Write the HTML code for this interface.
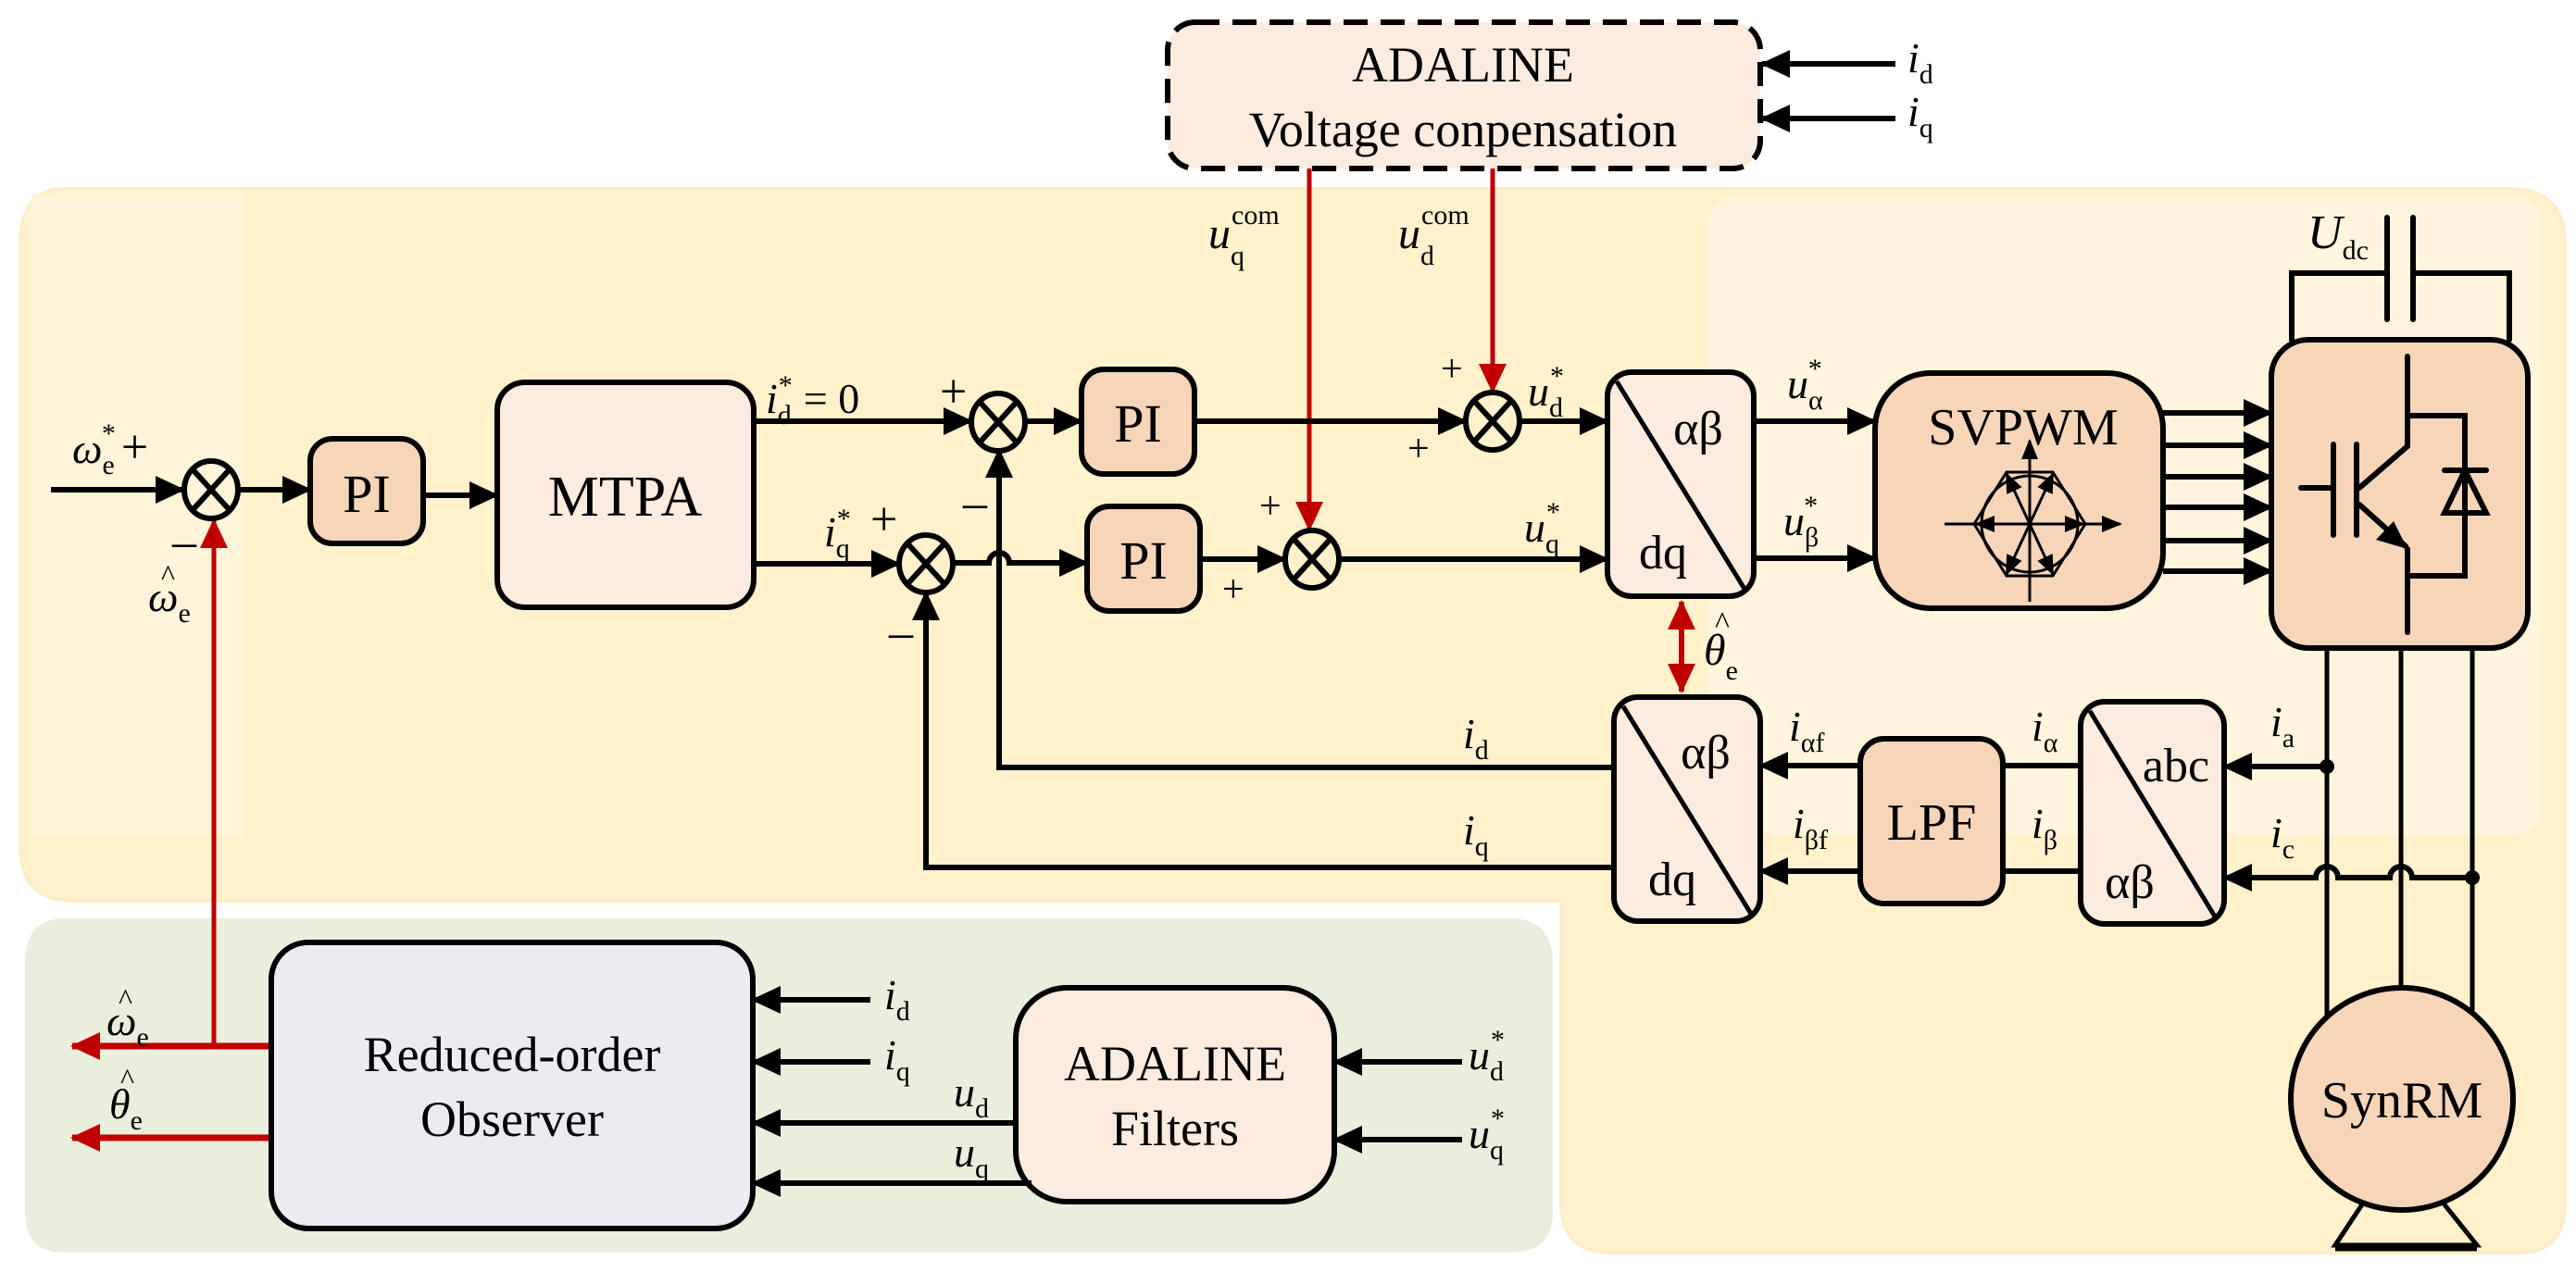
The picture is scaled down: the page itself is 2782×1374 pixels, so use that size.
<!DOCTYPE html>
<html><head><meta charset="utf-8"><style>
html,body{margin:0;padding:0;background:#fff}
svg{display:block}
svg text{font-family:"Liberation Serif",serif;fill:#000}
.it{font-style:italic}
</style></head><body>
<svg width="2782" height="1374" viewBox="0 0 2782 1374" xmlns="http://www.w3.org/2000/svg" font-family="Liberation Serif, serif">
<defs>
<marker id="a" markerUnits="userSpaceOnUse" markerWidth="32" markerHeight="30" refX="30" refY="15" orient="auto"><path d="M0,0 L32,15 L0,30 z" fill="#000"/></marker>
<marker id="r" markerUnits="userSpaceOnUse" markerWidth="32" markerHeight="30" refX="30" refY="15" orient="auto"><path d="M0,0 L32,15 L0,30 z" fill="#c00000"/></marker>
<marker id="rs" markerUnits="userSpaceOnUse" markerWidth="32" markerHeight="30" refX="2" refY="15" orient="auto"><path d="M32,0 L0,15 L32,30 z" fill="#c00000"/></marker>
<marker id="s" markerUnits="userSpaceOnUse" markerWidth="22" markerHeight="18" refX="20" refY="9" orient="auto"><path d="M0,0 L22,9 L0,18 z" fill="#000"/></marker>
</defs>

<!-- backgrounds -->
<path d="M70,204 H2710 Q2770,204 2770,264 V1300 Q2770,1353 2720,1353 H1740 Q1686,1353 1686,1300 V973 H80 Q22,973 22,915 V264 Q22,204 70,204 Z" fill="#fef1cc" stroke="#fdeecb" stroke-width="4"/>
<rect x="34" y="210" width="229" height="692" fill="#fef4d9"/>
<rect x="1845" y="212" width="900" height="690" rx="30" fill="#fef5dc"/>
<path d="M70,992 H1630 Q1677,992 1677,1040 V1310 Q1677,1353 1630,1353 H70 Q27,1353 27,1310 V1040 Q27,992 70,992 Z" fill="#e9efdc"/>

<!-- ADALINE voltage compensation -->
<rect x="1261" y="24" width="640" height="158" rx="30" fill="#fcebdf" stroke="#000" stroke-width="6" stroke-dasharray="26,14"/>
<text x="1580" y="88" font-size="54" text-anchor="middle">ADALINE</text>
<text x="1580" y="158" font-size="54" text-anchor="middle">Voltage conpensation</text>
<line x1="2047" y1="69" x2="1903" y2="69" stroke="#000" stroke-width="6" marker-end="url(#a)"/>
<line x1="2047" y1="128" x2="1903" y2="128" stroke="#000" stroke-width="6" marker-end="url(#a)"/>
<text x="2060" y="78" font-size="46" class="it">i<tspan font-size="30" font-style="normal" dy="12">d</tspan></text>
<text x="2060" y="136" font-size="46" class="it">i<tspan font-size="30" font-style="normal" dy="12">q</tspan></text>

<!-- red compensation lines -->
<line x1="1414" y1="182" x2="1414" y2="572" stroke="#c00000" stroke-width="5" marker-end="url(#r)"/>
<line x1="1612" y1="182" x2="1612" y2="423" stroke="#c00000" stroke-width="5" marker-end="url(#r)"/>
<text x="1305" y="268" font-size="48" class="it">u<tspan font-size="30" font-style="normal" dy="18">q</tspan><tspan font-size="30" font-style="normal" dx="-14" dy="-44">com</tspan></text>
<text x="1510" y="268" font-size="48" class="it">u<tspan font-size="30" font-style="normal" dy="18">d</tspan><tspan font-size="30" font-style="normal" dx="-14" dy="-44">com</tspan></text>

<!-- wires main -->
<g stroke="#000" stroke-width="6" fill="none">
<line x1="55" y1="529" x2="198" y2="529" marker-end="url(#a)"/>
<line x1="258" y1="529" x2="335" y2="529" marker-end="url(#a)"/>
<line x1="457" y1="535" x2="537" y2="535" marker-end="url(#a)"/>
<line x1="814" y1="455" x2="1049" y2="455" marker-end="url(#a)"/>
<line x1="814" y1="609" x2="971" y2="609" marker-end="url(#a)"/>
<line x1="1107" y1="455" x2="1168" y2="455" marker-end="url(#a)"/>
<path d="M1030,608 H1068 A11,11 0 0 1 1090,608 H1174" marker-end="url(#a)"/>
<line x1="1290" y1="455" x2="1583" y2="455" marker-end="url(#a)"/>
<line x1="1296" y1="604" x2="1388" y2="604" marker-end="url(#a)"/>
<line x1="1641" y1="455" x2="1736" y2="455" marker-end="url(#a)"/>
<line x1="1446" y1="604" x2="1736" y2="604" marker-end="url(#a)"/>
<line x1="1894" y1="455" x2="2025" y2="455" marker-end="url(#a)"/>
<line x1="1894" y1="603" x2="2025" y2="603" marker-end="url(#a)"/>
<line x1="2336" y1="446" x2="2453" y2="446" marker-end="url(#a)"/>
<line x1="2336" y1="481" x2="2453" y2="481" marker-end="url(#a)"/>
<line x1="2336" y1="515" x2="2453" y2="515" marker-end="url(#a)"/>
<line x1="2336" y1="548" x2="2453" y2="548" marker-end="url(#a)"/>
<line x1="2336" y1="584" x2="2453" y2="584" marker-end="url(#a)"/>
<line x1="2336" y1="617" x2="2453" y2="617" marker-end="url(#a)"/>
<polyline points="1743,829 1079,829 1079,486" marker-end="url(#a)"/>
<polyline points="1743,937 1000,937 1000,640" marker-end="url(#a)"/>
<line x1="2009" y1="827" x2="1901" y2="827" marker-end="url(#a)"/>
<line x1="2009" y1="941" x2="1901" y2="941" marker-end="url(#a)"/>
<line x1="2163" y1="827" x2="2247" y2="827"/>
<line x1="2163" y1="941" x2="2247" y2="941"/>
<line x1="2513" y1="828" x2="2402" y2="828" marker-end="url(#a)"/>
<path d="M2670,948 H2605 A12,12 0 0 0 2581,948 H2525 A12,12 0 0 0 2501,948 H2402" marker-end="url(#a)"/>
</g>
<circle cx="2513" cy="828" r="8"/>
<circle cx="2670" cy="948" r="8"/>

<!-- motor wires -->
<g stroke="#000" stroke-width="5">
<line x1="2513" y1="700" x2="2513" y2="1187"/>
<line x1="2593" y1="700" x2="2593" y2="1187"/>
<line x1="2670" y1="700" x2="2670" y2="1187"/>
</g>

<!-- red theta double arrow -->
<line x1="1816" y1="650" x2="1816" y2="747" stroke="#c00000" stroke-width="6" marker-start="url(#rs)" marker-end="url(#r)"/>
<text x="1840" y="718" font-size="48" class="it">θ<tspan font-size="30" font-style="normal" dy="16">e</tspan></text>
<text x="1852" y="684" font-size="34">^</text>

<!-- red observer outputs -->
<g stroke="#c00000" stroke-width="7" fill="none">
<line x1="293" y1="1130" x2="78" y2="1130" marker-end="url(#r)"/>
<line x1="293" y1="1229" x2="78" y2="1229" marker-end="url(#r)"/>
</g>
<line x1="231" y1="1130" x2="231" y2="562" stroke="#c00000" stroke-width="5" marker-end="url(#r)"/>

<!-- summing junctions -->
<g stroke="#000" stroke-width="6" fill="none">
<g transform="translate(228,529)"><ellipse rx="29" ry="31"/><path d="M-20,-22 L20,22 M20,-22 L-20,22"/></g>
<g transform="translate(1078,456)"><ellipse rx="29" ry="31"/><path d="M-20,-22 L20,22 M20,-22 L-20,22"/></g>
<g transform="translate(1000,609)"><ellipse rx="29" ry="31"/><path d="M-20,-22 L20,22 M20,-22 L-20,22"/></g>
<g transform="translate(1612,455)"><ellipse rx="29" ry="31"/><path d="M-20,-22 L20,22 M20,-22 L-20,22"/></g>
<g transform="translate(1417,604)"><ellipse rx="29" ry="31"/><path d="M-20,-22 L20,22 M20,-22 L-20,22"/></g>
</g>

<!-- blocks -->
<g stroke="#000" stroke-width="6">
<rect x="335" y="474" width="122" height="113" rx="24" fill="#f6d5b8"/>
<rect x="537" y="413" width="277" height="243" rx="30" fill="#fcebdf"/>
<rect x="1168" y="399" width="122" height="113" rx="24" fill="#f6d5b8"/>
<rect x="1174" y="547" width="122" height="113" rx="24" fill="#f6d5b8"/>
<rect x="1736" y="402" width="158" height="242" rx="26" fill="#fcebdf"/>
<rect x="2025" y="403" width="311" height="254" rx="60" fill="#f6d5b8"/>
<rect x="2453" y="367" width="277" height="333" rx="40" fill="#f6d5b8"/>
<rect x="1743" y="753" width="158" height="242" rx="26" fill="#fcebdf"/>
<rect x="2009" y="798" width="154" height="178" rx="26" fill="#f6d5b8"/>
<rect x="2247" y="758" width="155" height="240" rx="26" fill="#fcebdf"/>
<rect x="293" y="1018" width="520" height="309" rx="40" fill="#edebf2"/>
<rect x="1097" y="1067" width="344" height="231" rx="55" fill="#fcebdf"/>
</g>
<g stroke="#000" stroke-width="5">
<line x1="1746" y1="412" x2="1884" y2="636"/>
<line x1="1753" y1="763" x2="1891" y2="987"/>
<line x1="2257" y1="768" x2="2392" y2="990"/>
</g>
<text x="396" y="553" font-size="58" text-anchor="middle">PI</text>
<text x="675" y="557" font-size="62" text-anchor="middle">MTPA</text>
<text x="1229" y="477" font-size="58" text-anchor="middle">PI</text>
<text x="1235" y="625" font-size="58" text-anchor="middle">PI</text>
<text x="1834" y="480" font-size="52" text-anchor="middle">αβ</text>
<text x="1796" y="614" font-size="52" text-anchor="middle">dq</text>
<text x="1842" y="830" font-size="52" text-anchor="middle">αβ</text>
<text x="1806" y="967" font-size="52" text-anchor="middle">dq</text>
<text x="2086" y="907" font-size="56" text-anchor="middle">LPF</text>
<text x="2350" y="844" font-size="52" text-anchor="middle">abc</text>
<text x="2300" y="970" font-size="52" text-anchor="middle">αβ</text>
<text x="2185" y="480" font-size="56" text-anchor="middle">SVPWM</text>
<text x="553" y="1157" font-size="54" text-anchor="middle">Reduced-order</text>
<text x="553" y="1227" font-size="54" text-anchor="middle">Observer</text>
<text x="1269" y="1167" font-size="54" text-anchor="middle">ADALINE</text>
<text x="1269" y="1237" font-size="54" text-anchor="middle">Filters</text>

<!-- SVPWM hexagon -->
<g stroke="#000" stroke-width="3" fill="none">
<polygon points="2167,510 2217,510 2252,566 2217,622 2167,622 2132,566"/>
<circle cx="2192" cy="566" r="52"/>
<line x1="2100" y1="566" x2="2290" y2="566" marker-end="url(#s)"/>
<line x1="2192" y1="650" x2="2192" y2="476" marker-end="url(#s)"/>
<line x1="2192" y1="566" x2="2167" y2="512" marker-end="url(#s)"/>
<line x1="2192" y1="566" x2="2217" y2="512" marker-end="url(#s)"/>
<line x1="2192" y1="566" x2="2167" y2="620" marker-end="url(#s)"/>
<line x1="2192" y1="566" x2="2217" y2="620" marker-end="url(#s)"/>
<line x1="2192" y1="566" x2="2134" y2="566" marker-end="url(#s)"/>
<line x1="2192" y1="566" x2="2250" y2="566" marker-end="url(#s)"/>
</g>

<!-- IGBT -->
<g stroke="#000" stroke-width="6" fill="none" stroke-linecap="round">
<line x1="2600" y1="385" x2="2600" y2="482"/>
<line x1="2600" y1="482" x2="2548" y2="527"/>
<line x1="2545" y1="480" x2="2545" y2="578"/>
<line x1="2520" y1="480" x2="2520" y2="578"/>
<line x1="2485" y1="527" x2="2520" y2="527"/>
<line x1="2548" y1="545" x2="2598" y2="590"/>
<line x1="2600" y1="593" x2="2600" y2="683"/>
<polyline points="2600,449 2662,449 2662,622 2600,622"/>
<line x1="2640" y1="508" x2="2685" y2="508"/>
<polygon points="2640,554 2685,554 2662,508"/>
</g>
<polygon points="2600,593 2566,583 2585,563" fill="#000"/>

<!-- capacitor -->
<g stroke="#000" stroke-width="6" fill="none" stroke-linecap="round">
<polyline points="2475,367 2475,295 2578,295"/>
<polyline points="2606,295 2710,295 2710,367"/>
<line x1="2578" y1="235" x2="2578" y2="345"/>
<line x1="2606" y1="235" x2="2606" y2="345"/>
</g>
<text x="2492" y="268" font-size="52" class="it">U<tspan font-size="30" font-style="normal" dy="12">dc</tspan></text>

<!-- SynRM -->
<polygon points="2555,1295 2522,1345 2675,1345 2635,1295" fill="none" stroke="#000" stroke-width="5"/>
<line x1="2522" y1="1347" x2="2675" y2="1347" stroke="#000" stroke-width="9"/>
<circle cx="2594" cy="1187" r="120" fill="#f6d5b8" stroke="#000" stroke-width="6"/>
<text x="2594" y="1207" font-size="56" text-anchor="middle">SynRM</text>

<!-- observer input wires -->
<g stroke="#000" stroke-width="6">
<line x1="940" y1="1080" x2="813" y2="1080" marker-end="url(#a)"/>
<line x1="940" y1="1147" x2="813" y2="1147" marker-end="url(#a)"/>
<line x1="1097" y1="1213" x2="813" y2="1213" marker-end="url(#a)"/>
<line x1="1114" y1="1278" x2="813" y2="1278" marker-end="url(#a)"/>
<line x1="1579" y1="1147" x2="1441" y2="1147" marker-end="url(#a)"/>
<line x1="1579" y1="1231" x2="1441" y2="1231" marker-end="url(#a)"/>
</g>

<!-- labels -->
<g font-size="46">
<text x="78" y="500" class="it">ω<tspan font-size="30" font-style="normal" dy="12">e</tspan><tspan font-size="30" font-style="normal" dx="-14" dy="-34">*</tspan><tspan font-style="normal" font-size="52" dx="6" dy="22">+</tspan></text>
<text x="186" y="602" font-size="52">–</text>
<text x="160" y="660" class="it">ω<tspan font-size="30" font-style="normal" dy="12">e</tspan></text>
<text x="174" y="632" font-size="32">^</text>
<text x="827" y="446" class="it">i<tspan font-size="30" font-style="normal" dy="12">d</tspan><tspan font-size="30" font-style="normal" dx="-14" dy="-32">*</tspan><tspan font-style="normal" dx="12" dy="20">= 0</tspan></text>
<text x="1015" y="440" font-size="52">+</text>
<text x="1040" y="560" font-size="52">–</text>
<text x="890" y="590" class="it">i<tspan font-size="30" font-style="normal" dy="12">q</tspan><tspan font-size="30" font-style="normal" dx="-14" dy="-32">*</tspan></text>
<text x="940" y="578" font-size="52">+</text>
<text x="960" y="700" font-size="52">–</text>
<text x="1360" y="560" font-size="42">+</text>
<text x="1320" y="650" font-size="42">+</text>
<text x="1556" y="412" font-size="42">+</text>
<text x="1520" y="498" font-size="42">+</text>
<text x="1650" y="438" class="it">u<tspan font-size="30" font-style="normal" dy="12">d</tspan><tspan font-size="30" font-style="normal" dx="-14" dy="-34">*</tspan></text>
<text x="1646" y="585" class="it">u<tspan font-size="30" font-style="normal" dy="12">q</tspan><tspan font-size="30" font-style="normal" dx="-14" dy="-34">*</tspan></text>
<text x="1930" y="430" class="it">u<tspan font-size="30" font-style="normal" dy="12">α</tspan><tspan font-size="30" font-style="normal" dx="-16" dy="-34">*</tspan></text>
<text x="1926" y="578" class="it">u<tspan font-size="30" font-style="normal" dy="12">β</tspan><tspan font-size="30" font-style="normal" dx="-16" dy="-34">*</tspan></text>
<text x="1580" y="808" class="it">i<tspan font-size="30" font-style="normal" dy="12">d</tspan></text>
<text x="1580" y="912" class="it">i<tspan font-size="30" font-style="normal" dy="12">q</tspan></text>
<text x="1932" y="800" class="it">i<tspan font-size="30" font-style="normal" dy="12">αf</tspan></text>
<text x="1936" y="905" class="it">i<tspan font-size="30" font-style="normal" dy="12">βf</tspan></text>
<text x="2194" y="800" class="it">i<tspan font-size="30" font-style="normal" dy="12">α</tspan></text>
<text x="2194" y="905" class="it">i<tspan font-size="30" font-style="normal" dy="12">β</tspan></text>
<text x="2452" y="795" class="it">i<tspan font-size="30" font-style="normal" dy="12">a</tspan></text>
<text x="2452" y="915" class="it">i<tspan font-size="30" font-style="normal" dy="12">c</tspan></text>
<text x="955" y="1090" class="it">i<tspan font-size="30" font-style="normal" dy="12">d</tspan></text>
<text x="955" y="1155" class="it">i<tspan font-size="30" font-style="normal" dy="12">q</tspan></text>
<text x="1030" y="1195" class="it">u<tspan font-size="30" font-style="normal" dy="12">d</tspan></text>
<text x="1030" y="1260" class="it">u<tspan font-size="30" font-style="normal" dy="12">q</tspan></text>
<text x="1586" y="1155" class="it">u<tspan font-size="30" font-style="normal" dy="12">d</tspan><tspan font-size="30" font-style="normal" dx="-14" dy="-34">*</tspan></text>
<text x="1586" y="1240" class="it">u<tspan font-size="30" font-style="normal" dy="12">q</tspan><tspan font-size="30" font-style="normal" dx="-14" dy="-34">*</tspan></text>
<text x="115" y="1118" class="it">ω<tspan font-size="30" font-style="normal" dy="12">e</tspan></text>
<text x="128" y="1090" font-size="32">^</text>
<text x="118" y="1208" class="it">θ<tspan font-size="30" font-style="normal" dy="12">e</tspan></text>
<text x="130" y="1176" font-size="32">^</text>
</g>
</svg>
</body></html>
